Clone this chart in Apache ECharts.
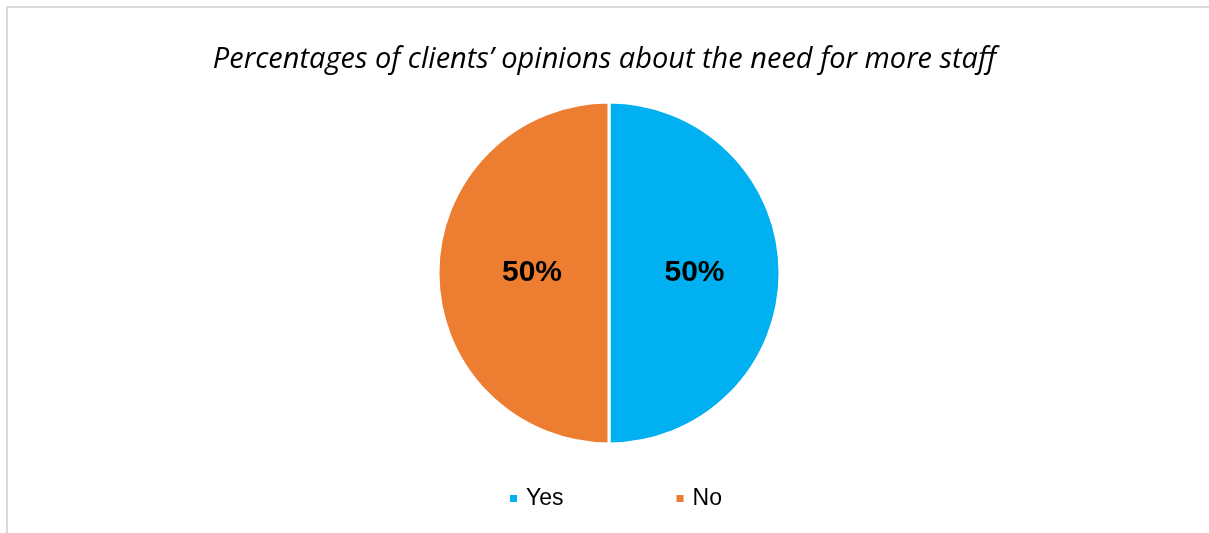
<!DOCTYPE html>
<html>
<head>
<meta charset="utf-8">
<script src="https://cdn.jsdelivr.net/npm/echarts@6/dist/echarts.min.js"></script>
<style>
  html, body { margin: 0; padding: 0; background: #ffffff; }
  #chart { width: 1209px; height: 533px; }
</style>
</head>
<body>
<div id="chart"></div>
<script>
// Survey answers and their shares (%)
const categories = ['Yes', 'No'];
const shares = [50, 50];
const colors = ['#00B0F0', '#ED7D31'];
const titleText = 'Percentages of clients\u2019 opinions about the need for more staff';

const chart = echarts.init(document.getElementById('chart'), null, { renderer: 'canvas' });

// nudge the in-slice labels slightly toward the dividing line
const labelPadding = [[6, 6, 0, 0], [6, 0, 0, 23]];

const pieData = categories.map((name, i) => ({
  name: name,
  value: shares[i],
  itemStyle: { color: colors[i] },
  label: { padding: labelPadding[i] }
}));

chart.setOption({
  backgroundColor: '#ffffff',
  animation: false,
  title: {
    text: titleText,
    left: 'center',
    top: 40,
    textStyle: {
      fontFamily: 'Open Sans',
      fontStyle: 'italic',
      fontWeight: 'normal',
      fontSize: 29,
      color: '#000000'
    }
  },
  legend: {
    data: categories,
    bottom: 23,
    left: 508,
    padding: 0,
    icon: 'rect',
    itemWidth: 9,
    itemHeight: 9,
    itemGap: 111,
    textStyle: {
      fontFamily: 'Liberation Sans',
      fontSize: 23,
      color: '#000000',
      padding: [0, 0, 0, 3]
    }
  },
  graphic: [
    { type: 'line', shape: { x1: 7, y1: 7, x2: 1209, y2: 7 }, style: { stroke: '#d9d9d9', lineWidth: 2 } },
    { type: 'line', shape: { x1: 7, y1: 7, x2: 7, y2: 533 }, style: { stroke: '#d9d9d9', lineWidth: 2 } }
  ],
  series: [{
    type: 'pie',
    center: [609, 273],
    radius: [0, 171],
    startAngle: 90,
    clockwise: true,
    silent: true,
    itemStyle: { borderColor: '#ffffff', borderWidth: 3 },
    label: {
      show: true,
      position: 'inner',
      formatter: p => p.value + '%',
      fontFamily: 'Liberation Sans',
      fontWeight: 'bold',
      fontSize: 30,
      color: '#000000'
    },
    labelLine: { show: false },
    data: pieData
  }]
});
</script>
</body>
</html>
